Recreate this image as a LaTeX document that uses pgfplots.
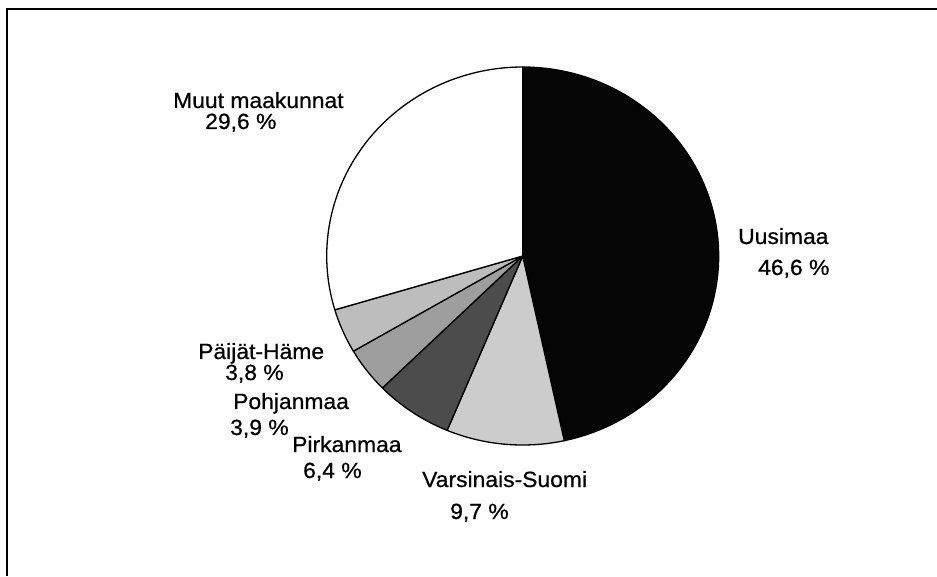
\documentclass[border=0pt]{standalone}
\usepackage{fontspec}
\setmainfont{Liberation Sans}[FakeStretch=1.04, FakeBold=0.6]
\usepackage{pgfplots}
\usepackage{pgfplotstable}
\pgfplotsset{compat=1.18}

% Shares of the regions (%), clockwise from 12 o'clock
\pgfplotstableread[col sep=comma]{
region,share
Uusimaa,46.6
Varsinais-Suomi,9.7
Pirkanmaa,6.4
Pohjanmaa,3.9
Päijät-Häme,3.8
Muut maakunnat,29.6
}\pietable

\definecolor{slice0}{gray}{0.02}
\definecolor{slice1}{gray}{0.80}
\definecolor{slice2}{gray}{0.30}
\definecolor{slice3}{gray}{0.62}
\definecolor{slice4}{gray}{0.74}
\definecolor{slice5}{gray}{1.00}

\tikzset{lbl/.style={font=\fontsize{22}{24}\selectfont, inner sep=0pt, anchor=base west}}

\begin{document}
\begin{tikzpicture}
\begin{axis}[
    width=937pt, height=576pt, scale only axis,
    xmin=0, xmax=937, ymin=0, ymax=576,
    hide axis, clip=false
]
% pie: centre and radii in the picture's pixel units
\def\cx{522.7}\def\cy{320}\def\rx{196}\def\ry{189}
\pgfplotstablegetrowsof{\pietable}
\pgfmathtruncatemacro\lastrow{\pgfplotsretval-1}
\gdef\startangle{90}
\pgfplotsforeachungrouped \i in {0,...,\lastrow}{
  \pgfplotstablegetelem{\i}{share}\of\pietable
  \pgfmathsetmacro\endangle{\startangle-3.6*\pgfplotsretval}
  \edef\cmd{\noexpand\addplot[draw=black, line width=1.3pt, line join=round,
      fill=slice\i, domain=\endangle:\startangle, samples=80, variable=\noexpand\t]
    ({\cx+\rx*cos(\noexpand\t)},{\cy+\ry*sin(\noexpand\t)})
    -- (axis cs:\cx,\cy) -- cycle;}
  \cmd
  \global\let\startangle\endangle
}

% labels
\node[lbl] at (axis cs:173,468) {Muut maakunnat};
\node[lbl] at (axis cs:205,447) {29,6 \%};
\node[lbl] at (axis cs:738,332) {Uusimaa};
\node[lbl] at (axis cs:758,301) {46,6 \%};
\node[lbl] at (axis cs:422,89) {Varsinais-Suomi};
\node[lbl] at (axis cs:450,57) {9,7 \%};
\node[lbl] at (axis cs:292,124) {Pirkanmaa};
\node[lbl] at (axis cs:303,98) {6,4 \%};
\node[lbl] at (axis cs:233,167) {Pohjanmaa};
\node[lbl] at (axis cs:230,141) {3,9 \%};
\node[lbl] at (axis cs:198,217) {Päijät-Häme};
\node[lbl] at (axis cs:225,196) {3,8 \%};

% frame (left and top edges of the scanned box)
\draw[line width=2pt] (axis cs:6.5,0) -- (axis cs:6.5,567) -- (axis cs:937,567);
\end{axis}
\pgfresetboundingbox
\path (0,0) rectangle (937pt,576pt);
\end{tikzpicture}
\end{document}
